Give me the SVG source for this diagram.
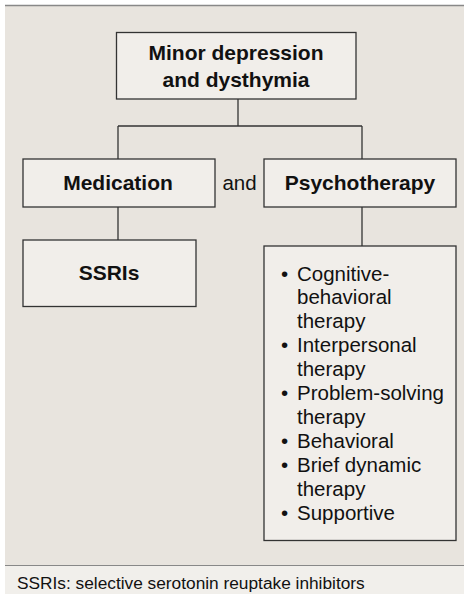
<svg xmlns="http://www.w3.org/2000/svg" width="464" height="594" viewBox="0 0 464 594">
<style>
.box{fill:#f1eeea;stroke:#333;stroke-width:1.3}
.t{font-family:"Liberation Sans",Arial,sans-serif;fill:#111}
.b{font-weight:bold;font-size:21px;text-anchor:middle}
.l{font-size:20.5px}
.conn line{stroke:#333;stroke-width:1.3}
</style>
<rect x="0" y="0" width="464" height="594" fill="#ffffff"/>
<rect x="5" y="5" width="459" height="561" fill="#e8e4de"/>
<rect x="5" y="566" width="459" height="28" fill="#f1efeb"/>
<line x1="5" y1="5.5" x2="464" y2="5.5" stroke="#888" stroke-width="1.5"/>
<line x1="5" y1="565.5" x2="464" y2="565.5" stroke="#888" stroke-width="1.2"/>
<g class="conn">
<line x1="238" y1="99" x2="238" y2="126"/>
<line x1="118" y1="126" x2="362" y2="126"/>
<line x1="118" y1="126" x2="118" y2="159"/>
<line x1="362" y1="126" x2="362" y2="159"/>
<line x1="118" y1="207" x2="118" y2="240"/>
<line x1="362" y1="207" x2="362" y2="246"/>
</g>
<g id="top">
<rect class="box" x="116.5" y="32.5" width="239.5" height="66.5"/>
<text class="t b" x="236" y="60">Minor depression</text>
<text class="t b" x="236" y="87">and dysthymia</text>
</g>
<g id="medication">
<rect class="box" x="23" y="159" width="192" height="48"/>
<text class="t b" x="118" y="190">Medication</text>
</g>
<g id="and">
<text class="t" x="239.5" y="190" font-size="20.5" text-anchor="middle">and</text>
</g>
<g id="psychotherapy">
<rect class="box" x="264" y="159" width="192" height="48"/>
<text class="t b" x="360" y="190">Psychotherapy</text>
</g>
<g id="ssris">
<rect class="box" x="23" y="240" width="173" height="66.5"/>
<text class="t b" x="109" y="280">SSRIs</text>
</g>
<g id="therapies">
<rect class="box" x="264" y="246" width="192" height="294.5"/>
<text class="t l">
<tspan x="281" y="280.5">•</tspan><tspan x="297" y="280.5">Cognitive-</tspan>
<tspan x="297" y="304.4">behavioral</tspan>
<tspan x="297" y="328.3">therapy</tspan>
<tspan x="281" y="352.2">•</tspan><tspan x="297" y="352.2">Interpersonal</tspan>
<tspan x="297" y="376.1">therapy</tspan>
<tspan x="281" y="400">•</tspan><tspan x="297" y="400">Problem-solving</tspan>
<tspan x="297" y="423.9">therapy</tspan>
<tspan x="281" y="447.8">•</tspan><tspan x="297" y="447.8">Behavioral</tspan>
<tspan x="281" y="471.7">•</tspan><tspan x="297" y="471.7">Brief dynamic</tspan>
<tspan x="297" y="495.6">therapy</tspan>
<tspan x="281" y="519.5">•</tspan><tspan x="297" y="519.5">Supportive</tspan>
</text>
</g>
<text class="t" x="17" y="589" font-size="17.3">SSRIs: selective serotonin reuptake inhibitors</text>
</svg>
